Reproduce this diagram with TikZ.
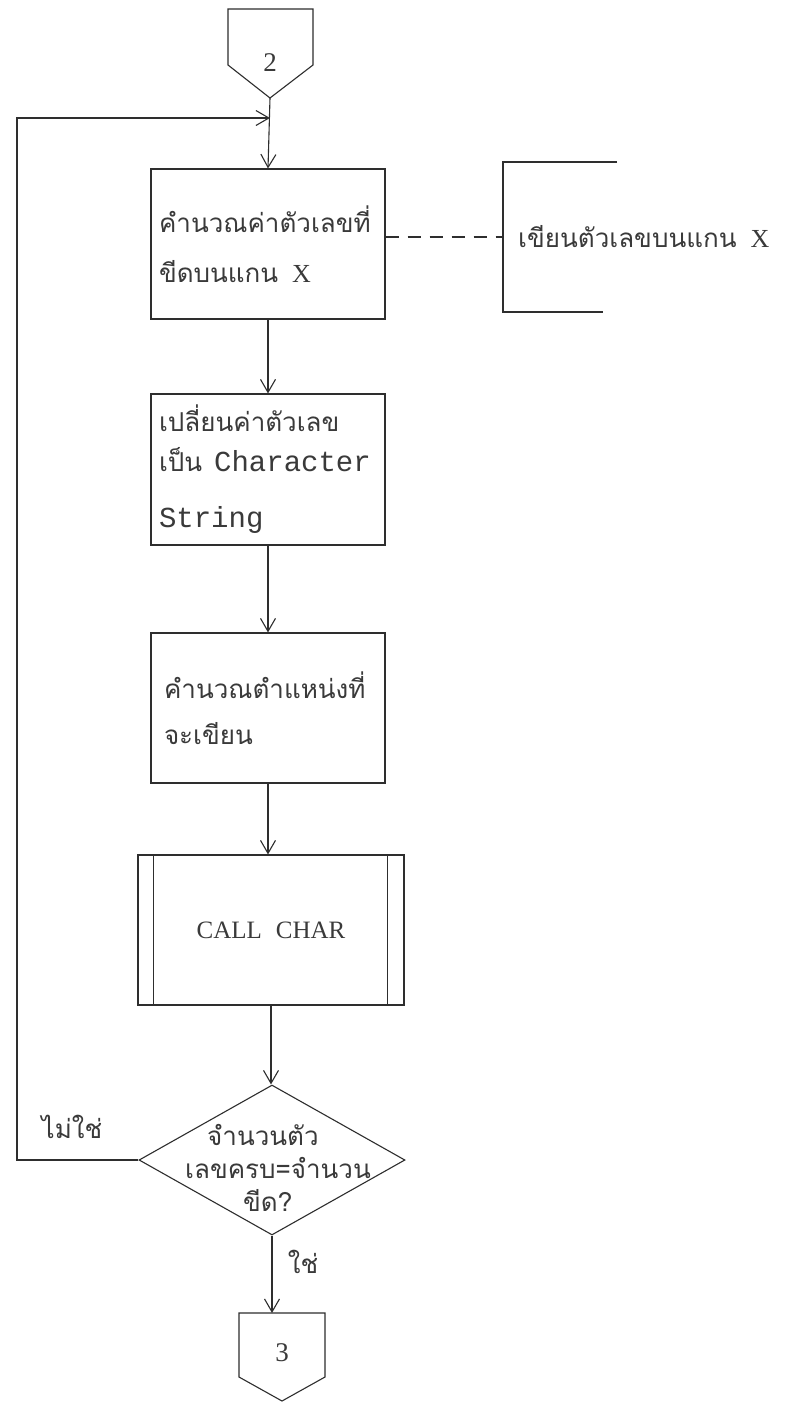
\documentclass[tikz,border=0pt]{standalone}
\usepackage{fontspec}
\newfontfamily\thai[Script=Thai]{Loma}
\newfontfamily\mono{Liberation Mono}
\newfontfamily\serif{Liberation Serif}
\usetikzlibrary{arrows.meta,calc,shapes.geometric}
\definecolor{ink}{HTML}{2E2E2E}
\definecolor{txt}{HTML}{3A3A3A}
\begin{document}
\begin{tikzpicture}[x=1pt,y=-1pt,
  ln/.style={draw=ink,line width=1.1pt},
  flow/.style={ln,-{Straight Barb[length=13pt,width=15pt,line width=1.1pt]}},
  procbox/.style={ln,rectangle,inner sep=0pt,minimum width=234pt,minimum height=150pt,
    text=txt,align=left,text width=218pt},
  th/.style={font=\thai\fontsize{26}{32}\selectfont,text=txt},
  numtxt/.style={font=\serif\fontsize{27}{27}\selectfont,text=txt,inner sep=0pt}]
\fill[white] (0,0) rectangle (796,1403);
\useasboundingbox (0,0) rectangle (796,1403);

% off-page connector 2
\node[numtxt] (c2) at (270,63) {2};
\coordinate (c2tip) at (270,98);
\draw[ln,line join=miter] ($(c2)+(-42,2)$) -- ($(c2)+(-42,-54)$) -- ($(c2)+(43,-54)$)
  -- ($(c2)+(43,2)$) -- (c2tip) -- cycle;
\coordinate (merge) at (270,118);
\coordinate (loopc) at (17,118);

% process boxes
\node[procbox,font=\thai\fontsize{26}{50}\selectfont] (b1) at (268,244)
  {คำนวณค่าตัวเลขที่\\ขีดบนแกน\hspace{14pt}{\serif X}};
\node[procbox,minimum height=151pt,font=\thai\fontsize{26}{40}\selectfont] (b2) at (268,469.5)
  {เปลี่ยนค่าตัวเลข\\เป็น\hspace{12pt}{\mono\fontsize{29}{40}\selectfont Character}\\[16pt]{\mono\fontsize{29}{40}\selectfont String}};
\node[procbox,font=\thai\fontsize{26}{46}\selectfont] (b3) at (268,708)
  {\hspace*{5pt}คำนวณตำแหน่งที่\\\hspace*{5pt}จะเขียน};

% annotation bracket
\node[th,anchor=west,minimum height=150pt,inner xsep=15pt] (ann) at (503,237)
  {เขียนตัวเลขบนแกน\hspace{14pt}{\serif X}};
\draw[ln] ($(ann.west)+(114,-75)$) -- ($(ann.west)+(0,-75)$) -- ($(ann.west)+(0,75)$) -- ($(ann.west)+(100,75)$);
\draw[ln,dash pattern=on 13pt off 9pt] (b1.east |- ann.west) -- (ann.west);

% predefined process
\node[ln,rectangle,minimum width=266pt,minimum height=150pt,inner sep=0pt,
  font=\serif\fontsize{25}{25}\selectfont,text=txt] (cc) at (271,930) {\raisebox{-10pt}{CALL\hspace{14pt}CHAR}};
\draw[ln] ($(cc.north west)+(16,0)$) -- ($(cc.south west)+(16,0)$);
\draw[ln] ($(cc.north east)+(-17,0)$) -- ($(cc.south east)+(-17,0)$);

% decision
\node[ln,diamond,minimum width=266pt,minimum height=150pt,inner sep=0pt] (dm) at (272,1160) {};
\node[th,anchor=west,inner sep=0pt] (d1) at (207,1135) {จำนวนตัว};
\node[th,anchor=west,inner sep=0pt] (d2) at (185,1168) {เลขครบ=จำนวน};
\node[th,anchor=west,inner sep=0pt] (d3) at (243,1200) {ขีด?};
\node[th,inner sep=0pt] (no) at (72,1127) {ไม่ใช่};
\node[th,inner sep=0pt] (yes) at (303,1262) {ใช่};

% off-page connector 3
\node[numtxt] (c3) at (282,1353) {3};
\coordinate (c3top) at (282,1313);
\draw[ln,line join=miter] ($(c3)+(-43,24)$) -- ($(c3)+(-43,-40)$) -- ($(c3)+(43,-40)$)
  -- ($(c3)+(43,24)$) -- ($(c3)+(0,48)$) -- cycle;

% flow lines
\draw[flow] (c2tip) -- (b1.north);
\draw[flow] (dm.west) -| (loopc) -- (merge);
\draw[flow] (b1.south) -- (b2.north);
\draw[flow] (b2.south) -- (b3.north);
\draw[flow] (b3.south) -- (b3.south |- cc.north);
\draw[flow] (cc.south) -- (cc.south |- dm.north);
\draw[flow] (dm.south) -- (dm.south |- c3top);
\end{tikzpicture}
\end{document}
